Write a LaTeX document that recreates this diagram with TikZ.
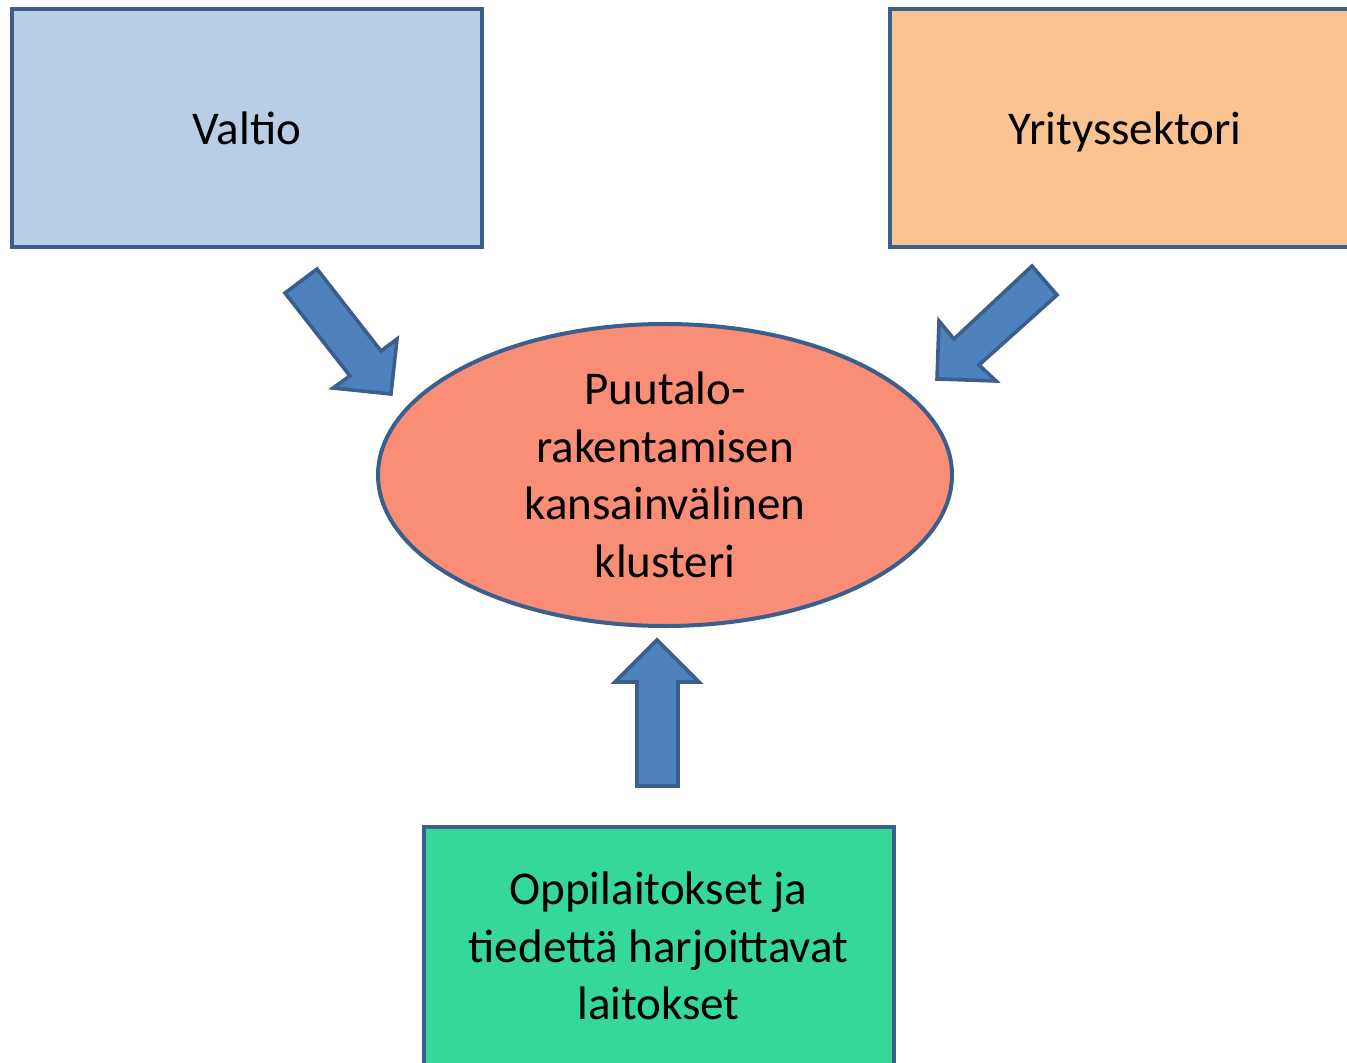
\documentclass[tikz,border=0pt]{standalone}
\usepackage{fontspec}
\setmainfont{Carlito}
\usetikzlibrary{shapes.geometric}
\definecolor{bordc}{HTML}{3A5F8D}
\definecolor{blueF}{HTML}{B9CDE5}
\definecolor{orangeF}{HTML}{FAC191}
\definecolor{salmonF}{HTML}{F98D76}
\definecolor{greenF}{HTML}{35D899}
\definecolor{arrowF}{HTML}{4F81BD}
\tikzset{
  box/.style={draw=bordc, line width=2pt, rectangle, minimum width=235pt, minimum height=119pt, inner sep=0pt, align=center, font=\fontsize{23.5}{28.75}\selectfont},
  onelinebox/.style={box, text height=16.5pt, text depth=0pt},
  hub/.style={draw=bordc, line width=2pt, ellipse, minimum width=287pt, minimum height=151pt, inner sep=0pt, fill=salmonF},
  hubtext/.style={align=center, font=\fontsize{23.5}{28.75}\selectfont, inner sep=0pt},
  blockarrow/.style={draw=bordc, line width=1.8pt, fill=arrowF, line join=miter}
}
\begin{document}
\begin{tikzpicture}[x=0.5pt,y=-0.5pt]
\useasboundingbox (0,0) rectangle (1347,1063);
\node[onelinebox, fill=blueF] (valtio) at (247,128) {Valtio};
\node[onelinebox, fill=orangeF] (yritys) at (1125,128) {Yrityssektori};
\node[box, fill=greenF] (oppi) at (658.5,946) {Oppilaitokset ja\\tiedettä harjoittavat\\laitokset};
\node[hub] (klusteri) at (665,475) {};
\node[hubtext] (klustt) at (klusteri) {Puutalo-\\rakentamisen\\kansainvälinen\\klusteri};
% left arrow
\draw[blockarrow] (285,293) -- (317,269) -- (381,351) -- (397,339) -- (391,394) -- (333,388) -- (350,376) -- cycle;
% right arrow
\draw[blockarrow] (1032,266) -- (1057,295) -- (979,365) -- (996,381) -- (937,379) -- (939,321) -- (954,339) -- cycle;
% up arrow
\draw[blockarrow] (637,786) -- (637,682) -- (615,682) -- (657,640) -- (699,682) -- (678,682) -- (678,786) -- cycle;
\end{tikzpicture}
\end{document}
